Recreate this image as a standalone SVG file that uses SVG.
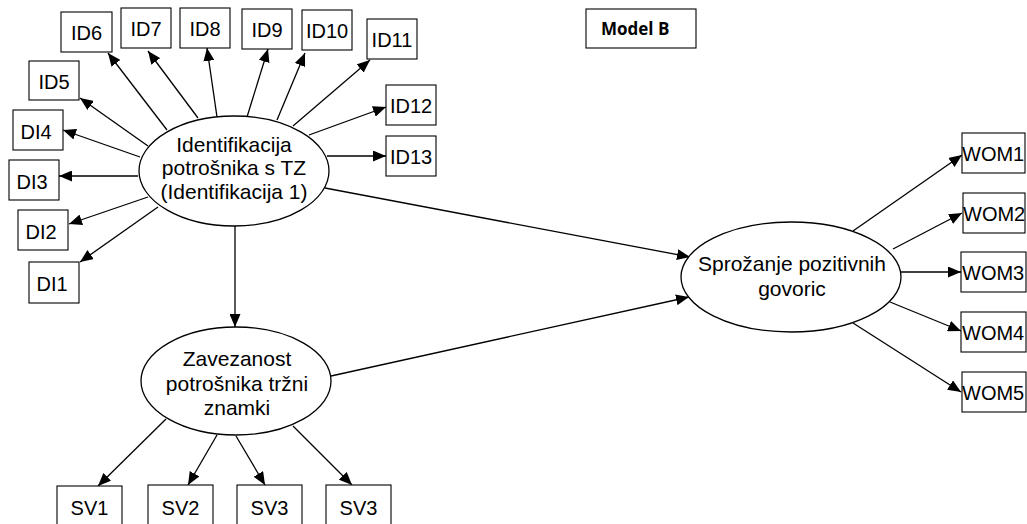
<svg xmlns="http://www.w3.org/2000/svg" width="1027" height="524" viewBox="0 0 1027 524">
<style>
.box{fill:#fff;stroke:#000;stroke-width:1.1}
.ell{fill:#fff;stroke:#000;stroke-width:1.3}
.t{font-family:"Liberation Sans",Arial,sans-serif;font-size:20px;fill:#000;text-anchor:middle}
.tl{font-family:"Liberation Sans",Arial,sans-serif;font-size:20px;fill:#000}
.e{font-family:"Liberation Sans",Arial,sans-serif;font-size:21px;fill:#000;text-anchor:middle}
.c line{stroke:#000;stroke-width:1.3;marker-end:url(#ah)}
</style>
<defs>
<marker id="ah" markerUnits="userSpaceOnUse" markerWidth="13" markerHeight="11" refX="13" refY="5.5" orient="auto">
<path d="M0,0 L13,5.5 L0,11 z" fill="#000"/>
</marker>
</defs>
<rect width="1027" height="524" fill="#fff"/>
<g class="c" id="connectors">
<line x1="167" y1="130" x2="108" y2="53"/>
<line x1="198" y1="118" x2="148" y2="51"/>
<line x1="217" y1="117" x2="207" y2="48"/>
<line x1="247" y1="117" x2="268" y2="49"/>
<line x1="277" y1="120" x2="305" y2="53"/>
<line x1="293" y1="126" x2="370" y2="60"/>
<line x1="309" y1="135" x2="386" y2="107"/>
<line x1="327" y1="156" x2="386" y2="156"/>
<line x1="148" y1="146" x2="80" y2="98"/>
<line x1="140" y1="157" x2="63" y2="130"/>
<line x1="138" y1="176" x2="59" y2="176"/>
<line x1="148" y1="197" x2="69" y2="224"/>
<line x1="158" y1="207" x2="80" y2="262"/>
<line x1="235" y1="226" x2="235" y2="327"/>
<line x1="325" y1="188" x2="690" y2="257"/>
<line x1="331" y1="376" x2="689" y2="297"/>
<line x1="166" y1="419" x2="98" y2="486"/>
<line x1="217" y1="435" x2="188" y2="485"/>
<line x1="236" y1="436" x2="265" y2="485"/>
<line x1="293" y1="426" x2="352" y2="485"/>
<line x1="853" y1="231" x2="962" y2="155"/>
<line x1="893" y1="249" x2="962" y2="213"/>
<line x1="901" y1="272" x2="961" y2="272"/>
<line x1="890" y1="302" x2="961" y2="331"/>
<line x1="853" y1="323" x2="961" y2="392"/>
</g>
<g id="identifikacija"><ellipse class="ell" cx="234" cy="171" rx="95" ry="55"/>
<text class="e" x="234" y="152">Identifikacija</text>
<text class="e" x="234" y="175">potrošnika s TZ</text>
<text class="e" x="234" y="199">(Identifikacija 1)</text></g>
<g id="zavezanost"><ellipse class="ell" cx="236" cy="381" rx="95" ry="54"/>
<text class="e" x="237" y="366">Zavezanost</text>
<text class="e" x="237" y="391">potrošnika tržni</text>
<text class="e" x="237" y="415">znamki</text></g>
<g id="sprozanje"><ellipse class="ell" cx="791" cy="277" rx="110" ry="55"/>
<text class="e" x="792" y="271">Sprožanje pozitivnih</text>
<text class="e" x="792" y="296">govoric</text></g>
<g id="modelB"><rect class="box" x="586" y="9" width="110" height="39"/>
<text x="601" y="35" style="font-family:'Open Sans','Liberation Sans',sans-serif;font-weight:bold;font-size:17px">Model B</text></g>
<g id="ID6"><rect class="box" x="61" y="12" width="51" height="40"/><text class="t" x="86.5" y="40">ID6</text></g>
<g id="ID7"><rect class="box" x="121" y="8" width="50" height="40"/><text class="t" x="146" y="36">ID7</text></g>
<g id="ID8"><rect class="box" x="180" y="8" width="50" height="40"/><text class="t" x="205" y="36">ID8</text></g>
<g id="ID9"><rect class="box" x="242" y="9" width="50" height="40"/><text class="t" x="267" y="37">ID9</text></g>
<g id="ID10"><rect class="box" x="302" y="10" width="50" height="40"/><text class="t" x="327" y="38">ID10</text></g>
<g id="ID11"><rect class="box" x="367" y="19" width="50" height="40"/><text class="t" x="392" y="47">ID11</text></g>
<g id="ID12"><rect class="box" x="386" y="85" width="50" height="40"/><text class="t" x="411" y="113">ID12</text></g>
<g id="ID13"><rect class="box" x="386" y="136" width="50" height="40"/><text class="t" x="411" y="164">ID13</text></g>
<g id="ID5"><rect class="box" x="29" y="61" width="50" height="39"/><text class="t" x="54" y="89">ID5</text></g>
<g id="DI4"><rect class="box" x="13" y="110" width="50" height="40"/><text class="t" x="36" y="139">DI4</text></g>
<g id="DI3"><rect class="box" x="9" y="160" width="50" height="40"/><text class="t" x="32" y="189">DI3</text></g>
<g id="DI2"><rect class="box" x="18" y="210" width="50" height="40"/><text class="t" x="41" y="239">DI2</text></g>
<g id="DI1"><rect class="box" x="29" y="262" width="50" height="41"/><text class="t" x="52" y="291">DI1</text></g>
<g id="SV1"><rect class="box" x="57" y="486" width="65" height="40"/><text class="t" x="89.5" y="515">SV1</text></g>
<g id="SV2"><rect class="box" x="148" y="485" width="65" height="40"/><text class="t" x="180.5" y="515">SV2</text></g>
<g id="SV3a"><rect class="box" x="237" y="485" width="65" height="40"/><text class="t" x="269.5" y="515">SV3</text></g>
<g id="SV3b"><rect class="box" x="326" y="485" width="65" height="40"/><text class="t" x="358.5" y="515">SV3</text></g>
<g id="WOM1"><rect class="box" x="962" y="133" width="63" height="40"/><text class="tl" x="962" y="161">WOM1</text></g>
<g id="WOM2"><rect class="box" x="963" y="193" width="62" height="40"/><text class="tl" x="963" y="221">WOM2</text></g>
<g id="WOM3"><rect class="box" x="961" y="252" width="65" height="40"/><text class="tl" x="962" y="280">WOM3</text></g>
<g id="WOM4"><rect class="box" x="961" y="312" width="65" height="40"/><text class="tl" x="962" y="340">WOM4</text></g>
<g id="WOM5"><rect class="box" x="962" y="372" width="64" height="40"/><text class="tl" x="962" y="400">WOM5</text></g>
</svg>
